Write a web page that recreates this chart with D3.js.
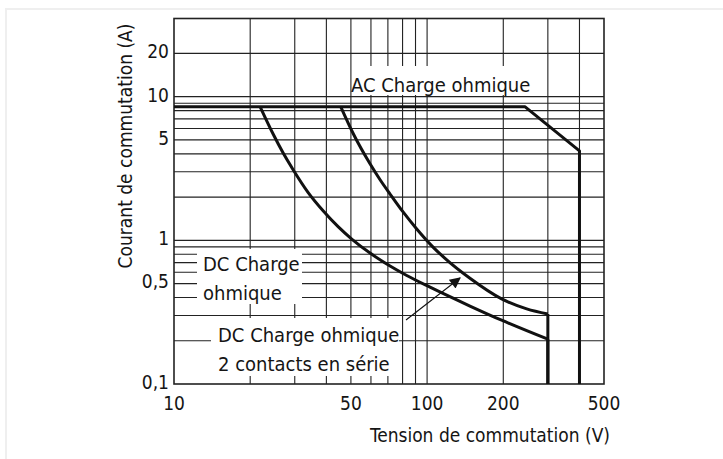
<!DOCTYPE html>
<html>
<head>
<meta charset="utf-8">
<script src="https://cdn.jsdelivr.net/npm/d3@7"></script>
<style>
  body { margin: 0; background: #fff; }
  svg text { font-family: "DejaVu Sans Condensed", "DejaVu Sans", sans-serif; fill: #151515; }
</style>
</head>
<body>
<svg id="chart" width="723" height="459"></svg>
<script>
// tick labels
const xTicks = [10, 50, 100, 200, 500];
const yTicks = [0.1, 0.5, 1, 5, 10, 20];
const yTickLabels = ["0,1", "0,5", "1", "5", "10", "20"];

// grid lines (V / A)
const xGrid = [20, 30, 40, 50, 60, 70, 80, 90, 100, 200, 300, 400];
const yGrid = [0.2, 0.3, 0.4, 0.5, 0.6, 0.7, 0.8, 0.9, 1, 2, 3, 4, 5, 6, 7, 8, 9, 10, 20];

// AC Charge ohmique
const acVolt = [10, 244, 400, 400];
const acAmp = [8.5, 8.5, 4.2, 0.1];

// DC Charge ohmique
const dcVolt = [21.9, 24.7, 27.0, 29.6, 33.9, 38.9, 44.6, 50.4, 59.5, 71.4, 83.1, 102.7, 147.7, 197, 300];
const dcAmp = [8.5, 5.45, 4.05, 3.09, 2.15, 1.6, 1.24, 1.02, 0.815, 0.662, 0.569, 0.472, 0.349, 0.278, 0.205];

// DC Charge ohmique, 2 contacts en serie
const dc2Volt = [45.6, 51.1, 59.5, 65.2, 71.4, 80.5, 91, 105.8, 117.7, 147.7, 197, 247.5, 300];
const dc2Amp = [8.5, 5.52, 3.41, 2.64, 2.1, 1.57, 1.2, 0.894, 0.749, 0.544, 0.391, 0.333, 0.307];

const dropAmp = 0.1; // both DC curves fall to the bottom at 300 V

const svg = d3.select("#chart");
const plotL = 174, plotR = 604, plotT = 18.5, plotB = 384;

const x = d3.scaleLog().domain([10, 500]).range([plotL, plotR]);
const y = d3.scaleLog().domain([0.1, 35]).range([plotB, plotT]);

// light card outline
svg.append("rect")
  .attr("x", 6).attr("y", 9).attr("width", 800).attr("height", 600)
  .attr("fill", "none").attr("stroke", "#efefef").attr("stroke-width", 2);

// grid
const grid = svg.append("g").attr("stroke", "#222").attr("stroke-width", 1.1);
grid.selectAll("line.v").data(xGrid).join("line")
  .attr("x1", d => x(d)).attr("x2", d => x(d))
  .attr("y1", plotT).attr("y2", plotB);
grid.selectAll("line.h").data(yGrid).join("line")
  .attr("y1", d => y(d)).attr("y2", d => y(d))
  .attr("x1", plotL).attr("x2", plotR);

// white boxes behind the annotations
const boxes = [
  {x0: 352, y0: 66, x1: 533, y1: 95},
  {x0: 197, y0: 249, x1: 302, y1: 304},
  {x0: 211, y0: 318, x1: 399, y1: 376}
];
svg.selectAll("rect.box").data(boxes).join("rect")
  .attr("x", d => d.x0).attr("y", d => d.y0)
  .attr("width", d => d.x1 - d.x0).attr("height", d => d.y1 - d.y0)
  .attr("fill", "#fff");

// frame
svg.append("rect")
  .attr("x", plotL).attr("y", plotT).attr("width", plotR - plotL).attr("height", plotB - plotT)
  .attr("fill", "none").attr("stroke", "#222").attr("stroke-width", 1.6);

// curves
const smooth = d3.line().x(d => x(d[0])).y(d => y(d[1])).curve(d3.curveMonotoneX);
const straight = d3.line().x(d => x(d[0])).y(d => y(d[1]));
const curves = svg.append("g").attr("fill", "none").attr("stroke", "#111")
  .attr("stroke-width", 3).attr("stroke-linejoin", "round");

curves.append("path").attr("d", straight(d3.zip(acVolt, acAmp)));

[[dcVolt, dcAmp], [dc2Volt, dc2Amp]].forEach(([v, a]) => {
  const pts = d3.zip(v, a);
  curves.append("path").attr("d", smooth(pts));
  const last = pts[pts.length - 1];
  curves.append("path").attr("d", straight([last, [last[0], dropAmp]]));
});

// arrow
svg.append("defs").append("marker")
  .attr("id", "head").attr("viewBox", "0 0 10 10")
  .attr("refX", 9).attr("refY", 5)
  .attr("markerWidth", 14).attr("markerHeight", 11)
  .attr("markerUnits", "userSpaceOnUse")
  .attr("orient", "auto")
  .append("path").attr("d", "M0,0L10,5L0,10Z").attr("fill", "#111");
svg.append("line")
  .attr("x1", 406).attr("y1", 320).attr("x2", 460).attr("y2", 278)
  .attr("stroke", "#111").attr("stroke-width", 1.1)
  .attr("marker-end", "url(#head)");

// annotations
const notes = [
  {text: "AC Charge ohmique", x: 351, y: 92},
  {text: "DC Charge", x: 203, y: 271},
  {text: "ohmique", x: 203, y: 300},
  {text: "DC Charge ohmique", x: 218, y: 342},
  {text: "2 contacts en série", x: 218, y: 371}
];
svg.selectAll("text.note").data(notes).join("text")
  .attr("x", d => d.x).attr("y", d => d.y)
  .attr("font-size", 20)
  .text(d => d.text);

// tick labels
svg.selectAll("text.yt").data(yTicks).join("text")
  .attr("x", 169).attr("y", d => y(d) - 2)
  .attr("dy", "0.36em").attr("text-anchor", "end")
  .attr("font-size", 19)
  .text((d, i) => yTickLabels[i]);

svg.selectAll("text.xt").data(xTicks).join("text")
  .attr("x", d => x(d)).attr("y", 410)
  .attr("text-anchor", "middle")
  .attr("font-size", 19)
  .text(d => d);

// axis titles
svg.append("text")
  .attr("x", 490).attr("y", 442)
  .attr("text-anchor", "middle").attr("font-size", 19)
  .text("Tension de commutation (V)");
svg.append("text")
  .attr("transform", "translate(132,146) rotate(-90)")
  .attr("text-anchor", "middle").attr("font-size", 19)
  .text("Courant de commutation (A)");
</script>
</body>
</html>
